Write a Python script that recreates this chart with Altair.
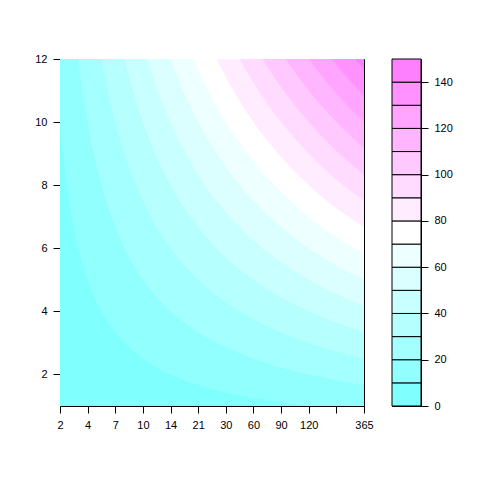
import json
import altair as alt
import pandas as pd

# x-axis tick labels (positions 1..12); 11th tick carries no label
x_labels = ["2", "4", "7", "10", "14", "21", "30", "60", "90", "120", "", "365"]
y_ticks = [2, 4, 6, 8, 10, 12]

# contour readings: for each level, the y where the contour crosses each x column
x_cols = [1, 1.25, 1.5, 2, 2.5, 3, 4, 5, 6, 7, 8, 9, 10, 11, 12]
levels = [10, 20, 30, 40, 50, 60, 70, 80, 90, 100, 110, 120, 130, 140]
contour_10 = [10, 8, 6.67, 5, 4, 3.33, 2.5, 2, 1.67, 1.43, 1.25, 1.11, 1, 0.91, 0.83]
contour_20 = [20, 16, 13.33, 10, 8, 6.67, 5, 4, 3.33, 2.86, 2.5, 2.22, 2, 1.82, 1.67]
contour_30 = [30, 24, 20, 15, 12, 10, 7.5, 6, 5, 4.29, 3.75, 3.33, 3, 2.73, 2.5]
contour_40 = [40, 32, 26.67, 20, 16, 13.33, 10, 8, 6.67, 5.71, 5, 4.44, 4, 3.64, 3.33]
contour_50 = [50, 40, 33.33, 25, 20, 16.67, 12.5, 10, 8.33, 7.14, 6.25, 5.56, 5, 4.55, 4.17]
contour_60 = [60, 48, 40, 30, 24, 20, 15, 12, 10, 8.57, 7.5, 6.67, 6, 5.45, 5]
contour_70 = [70, 56, 46.67, 35, 28, 23.33, 17.5, 14, 11.67, 10, 8.75, 7.78, 7, 6.36, 5.83]
contour_80 = [80, 64, 53.33, 40, 32, 26.67, 20, 16, 13.33, 11.43, 10, 8.89, 8, 7.27, 6.67]
contour_90 = [90, 72, 60, 45, 36, 30, 22.5, 18, 15, 12.86, 11.25, 10, 9, 8.18, 7.5]
contour_100 = [100, 80, 66.67, 50, 40, 33.33, 25, 20, 16.67, 14.29, 12.5, 11.11, 10, 9.09, 8.33]
contour_110 = [110, 88, 73.33, 55, 44, 36.67, 27.5, 22, 18.33, 15.71, 13.75, 12.22, 11, 10, 9.17]
contour_120 = [120, 96, 80, 60, 48, 40, 30, 24, 20, 17.14, 15, 13.33, 12, 10.91, 10]
contour_130 = [130, 104, 86.67, 65, 52, 43.33, 32.5, 26, 21.67, 18.57, 16.25, 14.44, 13, 11.82, 10.83]
contour_140 = [140, 112, 93.33, 70, 56, 46.67, 35, 28, 23.33, 20, 17.5, 15.56, 14, 12.73, 11.67]
contours = [contour_10, contour_20, contour_30, contour_40, contour_50, contour_60, contour_70,
            contour_80, contour_90, contour_100, contour_110, contour_120, contour_130, contour_140]

# colour key bands
band_lo = [0, 10, 20, 30, 40, 50, 60, 70, 80, 90, 100, 110, 120, 130, 140]
band_hi = [10, 20, 30, 40, 50, 60, 70, 80, 90, 100, 110, 120, 130, 140, 150]
band_colors = ["#80FFFF", "#92FFFF", "#A4FFFF", "#B6FFFF", "#C8FFFF", "#DBFFFF", "#EDFFFF",
               "#FFFFFF", "#FFEDFF", "#FFDBFF", "#FFC8FF", "#FFB6FF", "#FFA4FF", "#FF92FF", "#FF80FF"]
key_ticks = [0, 20, 40, 60, 80, 100, 120, 140]

FONT = "Liberation Sans"
axis_common = dict(grid=False, domain=False, tickColor="black", tickSize=7, tickWidth=1,
                   labelColor="black", labelFont=FONT, labelFontSize=11, labelPadding=6)

x_enc = alt.X("x:Q", scale=alt.Scale(domain=[1, 12], nice=False, zero=False),
              axis=alt.Axis(values=list(range(1, 13)),
                            labelExpr=json.dumps(x_labels).replace('"', "'") + "[datum.value - 1]",
                            labelFlush=False, labelOverlap=False, **axis_common),
              title=None)
y_scale = alt.Scale(domain=[1, 12], nice=False, zero=False)
y_axis = alt.Axis(values=y_ticks, **axis_common)

bg_df = pd.DataFrame({"x": [1], "x2": [12], "y": [1], "y2": [12]})
bg = alt.Chart(bg_df).mark_rect(color=band_colors[0]).encode(
    x=x_enc, x2="x2:Q",
    y=alt.Y("y:Q", scale=y_scale, axis=y_axis, title=None), y2="y2:Q")

layers = [bg]
for i, lev in enumerate(levels):
    df = pd.DataFrame({"x": x_cols, "y": contours[i]})
    layers.append(
        alt.Chart(df).mark_area(color=band_colors[i + 1], interpolate="monotone", clip=True).encode(
            x=x_enc,
            y=alt.Y("y:Q", scale=y_scale, axis=y_axis, title=None, stack=None),
            y2=alt.datum(12),
        )
    )

main = alt.layer(*layers).properties(width=304, height=347)

key_df = pd.DataFrame({"lo": band_lo, "hi": band_hi})
key = alt.Chart(key_df).mark_rect(stroke="black", strokeWidth=1).encode(
    x=alt.datum(0, scale=alt.Scale(domain=[0, 1]), axis=None),
    x2=alt.datum(1),
    y=alt.Y("lo:Q", scale=alt.Scale(domain=[0, 150], nice=False, zero=False),
            axis=alt.Axis(orient="right", values=key_ticks, **axis_common), title=None),
    y2="hi:Q",
    color=alt.Color("lo:O", scale=alt.Scale(domain=band_lo, range=band_colors), legend=None),
).properties(width=29, height=347)

chart = alt.hconcat(main, key, spacing=17).properties(
    padding={"left": 26, "top": 44, "right": 5, "bottom": 5}
).configure_view(stroke="black", strokeWidth=1)

chart.save("out.html", embed_options={"renderer": "svg", "actions": False})
